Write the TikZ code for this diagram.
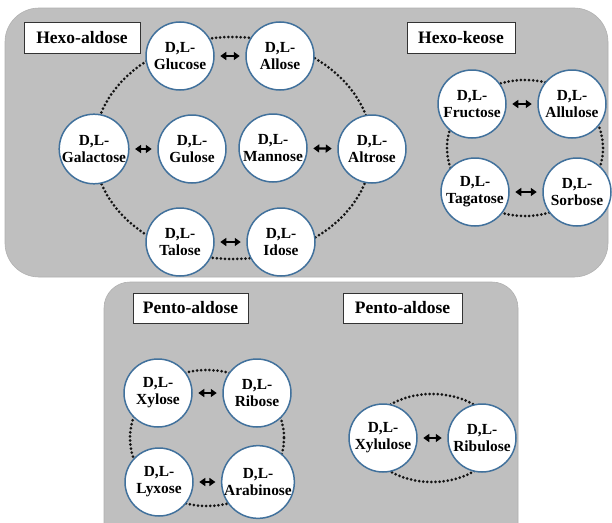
\documentclass[tikz,border=0pt]{standalone}
\usepackage{fontspec}
\setmainfont{Liberation Serif}
\usetikzlibrary{arrows.meta}
\definecolor{panelgray}{RGB}{191,191,191}
\definecolor{ringblue}{RGB}{65,113,156}
\definecolor{dotcol}{RGB}{20,20,20}
\tikzset{
  panel/.style={fill=panelgray, draw=panelgray!92!black, line width=0.6pt},
  sugar/.style={circle, draw=ringblue, line width=1.5pt, fill=white, minimum size=68pt, inner sep=0pt, align=center,
    font=\fontsize{15.4}{17}\selectfont\bfseries},
  titlebox/.style={draw=black!80, line width=0.8pt, fill=white, minimum height=31pt, inner sep=0pt,
    font=\fontsize{17.5}{20}\selectfont\bfseries},
  ring/.style={draw=dotcol, line width=3pt, line cap=round, dash pattern=on 0pt off 4.1pt},
  swap/.style={{Triangle[length=6pt,width=8pt]}-{Triangle[length=6pt,width=8pt]}, line width=2.3pt, shorten >=5.5pt, shorten <=5.5pt}
}
\begin{document}
\begin{tikzpicture}[x=1pt,y=-1pt]
\useasboundingbox (0,0) rectangle (612,522);
\clip (0,0) rectangle (612,522);
% panels
\path[panel, rounded corners=34pt] (5,8) rectangle (608,277);
\path[panel, rounded corners=26pt] (104,282) rectangle (518,560);
% dotted rings
\draw[ring] (233,148) ellipse [x radius=139, y radius=111];
\draw[ring] (525,148) ellipse [x radius=78, y radius=68];
\draw[ring] (207,438) ellipse [x radius=77, y radius=68];
\draw[ring] (432,438) ellipse [x radius=64, y radius=44];
% titles
\node[titlebox, minimum width=116pt] (t1) at (82,37.5) {Hexo-aldose};
\node[titlebox, minimum width=108pt] (t2) at (461,37.5) {Hexo-keose};
\node[titlebox, minimum width=115pt, minimum height=30pt] (t3) at (190.5,308) {Pento-aldose};
\node[titlebox, minimum width=119pt, minimum height=30pt] (t4) at (402.5,308) {Pento-aldose};
% hexo-aldose
\node[sugar] (glc) at (180,56) {D,L-\\Glucose};
\node[sugar] (all) at (280,56) {D,L-\\Allose};
\node[sugar] (gal) at (94,149) {D,L-\\Galactose};
\node[sugar] (gul) at (192,149) {D,L-\\Gulose};
\node[sugar] (man) at (273,148) {D,L-\\Mannose};
\node[sugar] (alt) at (372,149) {D,L-\\Altrose};
\node[sugar] (tal) at (180,242) {D,L-\\Talose};
\node[sugar] (ido) at (281,242) {D,L-\\Idose};
% hexo-keose
\node[sugar] (fru) at (472,104) {D,L-\\Fructose};
\node[sugar] (alu) at (572,104) {D,L-\\Allulose};
\node[sugar] (tag) at (475,192) {D,L-\\Tagatose};
\node[sugar] (sor) at (577,192) {D,L-\\Sorbose};
% pento-aldose
\node[sugar] (xyl) at (158,393) {D,L-\\Xylose};
\node[sugar] (rib) at (257,393) {D,L-\\Ribose};
\node[sugar] (lyx) at (159,482) {D,L-\\Lyxose};
\node[sugar] (ara) at (258,482) {D,L-\\Arabinose};
% pento-ketose
\node[sugar] (xlu) at (383,438) {D,L-\\Xylulose};
\node[sugar] (rlu) at (482,438) {D,L-\\Ribulose};
% arrows
\draw[swap] (glc) -- (all);
\draw[swap] (gal) -- (gul);
\draw[swap] (man) -- (alt);
\draw[swap] (tal) -- (ido);
\draw[swap] (fru) -- (alu);
\draw[swap] (tag) -- (sor);
\draw[swap] (xyl) -- (rib);
\draw[swap] (lyx) -- (ara);
\draw[swap] (xlu) -- (rlu);
\end{tikzpicture}
\end{document}
